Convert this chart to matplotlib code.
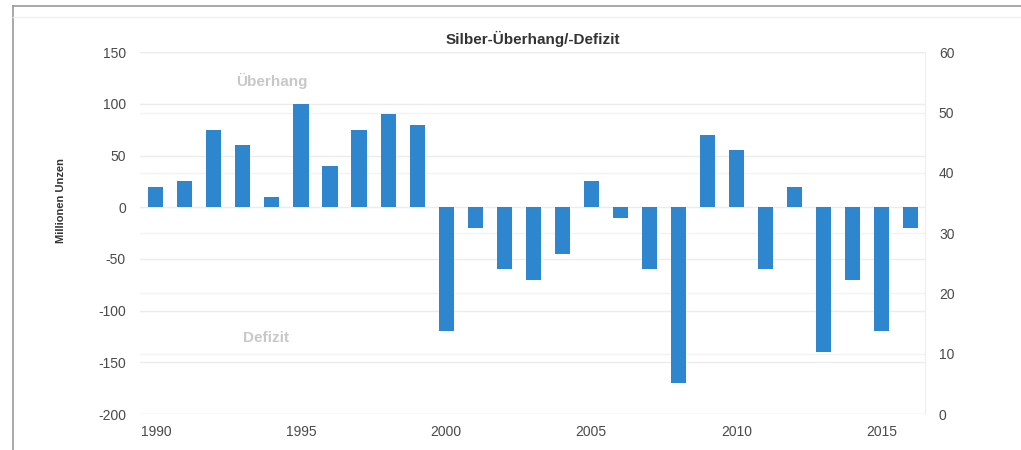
import matplotlib
matplotlib.use('Agg')
import matplotlib.pyplot as plt
from matplotlib.lines import Line2D
import numpy as np

plt.rcParams['font.family'] = ['Liberation Sans', 'DejaVu Sans']
plt.rcParams['axes.unicode_minus'] = False

years = list(range(1990, 2017))
surplus = [20, 25, 75, 60, 10, 100, 40, 75, 90, 80,
           -120, -20, -60, -70, -45, 25, -10, -60, -170, 70,
           55, -60, 20, -140, -70, -120, -20]
left_ticks = [-200, -150, -100, -50, 0, 50, 100, 150]
right_ticks = [0, 10, 20, 30, 40, 50, 60]
xticks = [1990, 1995, 2000, 2005, 2010, 2015]

fig = plt.figure(figsize=(10.21, 4.5), dpi=100)
ax = fig.add_axes([0.137, 0.08, 0.769, 0.804])

ax.bar(years, surplus, width=0.52, color='#2e86cf', zorder=3)

ax.set_xlim(1989.45, 2016.5)
ax.set_ylim(-200, 150)
ax.set_yticks(left_ticks)
ax.set_xticks(xticks)
ax.grid(axis='y', color='#ececec', linewidth=1, zorder=0)
ax.tick_params(length=0, labelsize=10, colors='#4a4a4a')
ax.tick_params(axis='y', pad=10)
ax.tick_params(axis='x', pad=8)
for s in ['top', 'left', 'bottom']:
    ax.spines[s].set_visible(False)
ax.spines['right'].set_color('#eeeeee')

ax2 = ax.twinx()
ax2.set_ylim(0, 60)
ax2.set_yticks(right_ticks)
ax2.grid(axis='y', color='#f3f3f3', linewidth=1, zorder=0)
ax2.tick_params(length=0, labelsize=10, colors='#4a4a4a', pad=10)
for s in ['top', 'left', 'bottom']:
    ax2.spines[s].set_visible(False)
ax2.spines['right'].set_color('#eeeeee')
ax2.set_zorder(0)
ax.set_zorder(1)
ax.patch.set_visible(False)

ax.set_title('Silber-Überhang/-Defizit', fontsize=11, fontweight='bold',
             color='#333333', pad=6)
fig.text(0.06, 0.555, 'Millionen Unzen', rotation=90, fontsize=8,
         fontweight='bold', color='#333333', ha='center', va='center')

ax.text(1994, 122, 'Überhang', fontsize=11, fontweight='bold',
        color='#c8c8c8', ha='center', va='center')
ax.text(1993.8, -126, 'Defizit', fontsize=11, fontweight='bold',
        color='#c8c8c8', ha='center', va='center')

# outer frame
fig.add_artist(Line2D([13 / 1021, 13 / 1021], [0, 1 - 6 / 450],
                      color='#999999', linewidth=1.2))
fig.add_artist(Line2D([13 / 1021, 1], [1 - 6 / 450, 1 - 6 / 450],
                      color='#999999', linewidth=1.2))
fig.add_artist(Line2D([13 / 1021, 1], [1 - 17 / 450, 1 - 17 / 450],
                      color='#f0f0f0', linewidth=1))

fig.savefig('out.png', dpi=100)
